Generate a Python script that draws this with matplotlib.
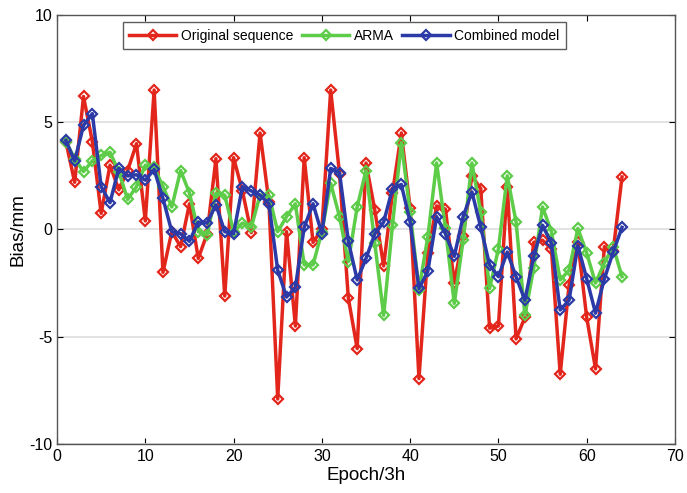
import numpy as np
import matplotlib
matplotlib.use("Agg")
from matplotlib import pyplot as plt

plt.rcParams['font.family'] = ['Liberation Sans', 'DejaVu Sans']
plt.rcParams['axes.unicode_minus'] = False

epoch = np.arange(1, 65)

# original residual series
original = [4.1, 2.2, 6.2, 4.1, 0.75, 3.0, 1.85, 2.75, 4.0, 0.4,
            6.5, -2.0, -0.1, -0.8, 1.2, -1.35, -0.2, 3.3, -3.1, 3.35,
            1.8, -0.15, 4.5, 1.3, -7.9, -0.1, -4.5, 3.35, -0.6, 0.0,
            6.5, 2.6, -3.2, -5.55, 3.1, 0.9, -1.7, 1.7, 4.5, 1.0,
            -6.95, -1.1, 1.1, 0.95, -2.5, -0.3, 2.5, 1.9, -4.6, -4.5,
            2.0, -5.1, -4.1, -0.6, -0.5, -0.9, -6.75, -2.6, -0.6, -4.1,
            -6.5, -0.8, -1.0, 2.45]

arma = [4.1, 3.3, 2.7, 3.2, 3.45, 3.6, 2.7, 1.4, 2.0, 3.0,
        2.9, 2.0, 1.05, 2.75, 1.7, -0.1, -0.25, 1.7, 1.6, -0.1,
        0.3, 0.1, 1.6, 1.6, -0.1, 0.6, 1.2, -1.65, -1.65, -0.1,
        2.15, 0.6, -1.5, 1.05, 2.75, -0.65, -4.0, 0.2, 4.05, 0.8,
        -2.8, -0.35, 3.1, 0.05, -3.45, -0.5, 3.1, 0.8, -2.75, -0.9,
        2.5, 0.35, -4.0, -1.8, 1.05, -0.1, -2.35, -1.9, 0.05, -1.1,
        -2.5, -1.55, -0.8, -2.2]

combined = [4.15, 3.2, 4.85, 5.4, 2.0, 1.25, 2.85, 2.5, 2.55, 2.3,
            2.8, 1.45, -0.1, -0.2, -0.55, 0.35, 0.3, 1.15, -0.1, -0.2,
            2.0, 1.8, 1.6, 1.2, -1.9, -3.15, -2.7, 0.1, 1.2, -0.2,
            2.85, 2.65, -0.55, -2.35, -1.35, -0.2, 0.35, 1.9, 2.1, 0.35,
            -2.75, -1.95, 0.6, -0.2, -1.25, 0.6, 1.75, 0.1, -1.65, -2.2,
            -1.05, -2.2, -3.3, -1.25, 0.2, -0.65, -3.75, -3.3, -0.75, -2.3,
            -3.9, -2.3, -1.05, 0.1]

fig = plt.figure(figsize=(6.87, 4.93), dpi=100)
ax = fig.add_axes([0.083, 0.0994, 0.8995, 0.8702])

style = dict(marker='D', markersize=5.5, mfc='none', mew=1.6, lw=2.5)
ax.plot(epoch, original, color='#e3261c', label='Original sequence', **style)
ax.plot(epoch, arma, color='#5dcc48', label='ARMA', **style)
ax.plot(epoch, combined, color='#2b3aa6', label='Combined model', **style)

ax.set_xlim(0, 70)
ax.set_ylim(-10, 10)
ax.set_xticks(range(0, 71, 10))
ax.set_yticks([-10, -5, 0, 5, 10])
ax.yaxis.grid(True, color='#dddddd', lw=1.2)
ax.set_axisbelow(True)
ax.tick_params(direction='in', top=True, right=True, labelsize=11.5, length=4)
for s in ax.spines.values():
    s.set_color('#555555')
    s.set_linewidth(1.0)

ax.set_xlabel('Epoch/3h', fontsize=13.5, labelpad=2)
ax.set_ylabel('Bias/mm', fontsize=13.5, labelpad=2)

leg = ax.legend(loc='upper center', bbox_to_anchor=(0.465, 0.986), ncol=3,
                fontsize=10, frameon=True, fancybox=False, edgecolor='#333333',
                handlelength=3.4, columnspacing=0.6, handletextpad=0.35,
                borderpad=0.45, borderaxespad=0.1, numpoints=1)
leg.get_frame().set_linewidth(1.0)

fig.savefig("out.png", dpi=100)
